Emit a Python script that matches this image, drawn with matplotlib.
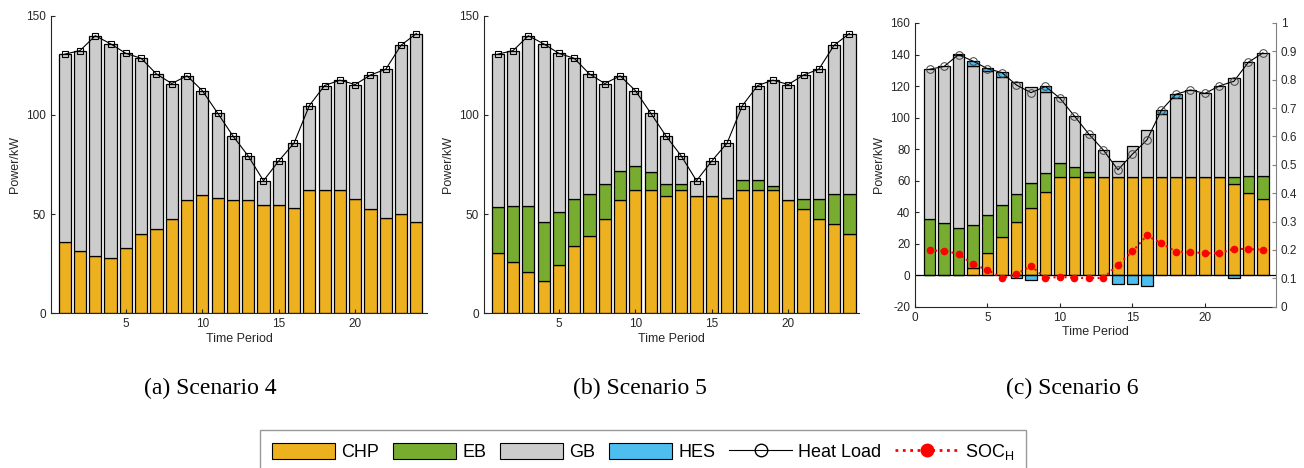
import numpy as np
import matplotlib
matplotlib.use("Agg")
import matplotlib.pyplot as plt
from matplotlib.patches import Patch
from matplotlib.lines import Line2D

plt.rcParams['font.family'] = ['Liberation Sans', 'DejaVu Sans']
plt.rcParams['axes.unicode_minus'] = False

# Time periods and heat load (same in all scenarios)
t = np.arange(1, 25)
heat_load = [130.6, 132.4, 139.9, 135.8, 131.0, 128.5, 120.6, 115.8, 119.7, 112.2, 100.9, 89.4,
             79.3, 66.8, 76.8, 85.8, 104.7, 114.8, 117.5, 115.3, 120.1, 123.0, 135.1, 141.0]

# Scenario 4
chp_a = [36.1, 31.4, 28.9, 27.7, 32.8, 40.1, 42.3, 47.5, 57.3, 59.6, 58.3, 56.9,
         56.9, 54.4, 54.4, 53.3, 62.0, 62.2, 62.2, 57.4, 52.6, 47.9, 49.9, 45.9]
gb_a = [94.5, 101.0, 111.0, 108.1, 98.2, 88.4, 78.3, 68.3, 62.4, 52.6, 42.6, 32.5,
        22.4, 12.4, 22.4, 32.5, 42.7, 52.6, 55.3, 57.9, 67.5, 75.1, 85.2, 95.1]

# Scenario 5
chp_b = [30.6, 25.7, 21.0, 16.1, 24.2, 33.8, 39.0, 47.4, 56.9, 62.0, 62.0, 59.3,
         62.0, 59.3, 59.3, 58.3, 62.0, 62.0, 62.0, 57.3, 52.4, 47.7, 44.9, 40.1]
eb_b = [23.0, 28.2, 32.9, 30.1, 27.0, 24.0, 21.1, 17.9, 15.0, 12.2, 9.1, 6.0,
        3.3, 0.0, 0.0, 0.0, 5.0, 5.0, 2.3, 0.0, 5.0, 9.9, 15.2, 20.2]
gb_b = [77.0, 78.5, 86.0, 89.6, 79.8, 70.7, 60.5, 50.5, 47.8, 38.0, 29.8, 24.1,
        14.0, 7.5, 17.5, 27.5, 37.7, 47.8, 53.2, 58.0, 62.7, 65.4, 75.0, 80.7]

# Scenario 6
chp_c = [0.0, 0.0, 0.0, 4.8, 14.3, 24.0, 33.5, 42.9, 52.8, 62.3, 62.3, 62.3,
         62.3, 62.3, 62.3, 62.3, 62.3, 62.3, 62.3, 62.3, 62.3, 57.6, 52.4, 48.1]
eb_c = [35.8, 32.9, 29.7, 26.8, 23.9, 20.7, 17.9, 15.3, 12.0, 9.1, 6.1, 3.1,
        0.0, 0.0, 0.0, 0.0, 0.0, 0.0, 0.0, 0.0, 0.0, 4.9, 10.5, 15.0]
gb_c = [95.0, 99.6, 109.9, 100.9, 91.1, 81.0, 71.3, 60.9, 51.2, 41.4, 32.8, 24.4,
        17.1, 9.9, 19.8, 30.0, 40.1, 49.9, 55.2, 53.3, 57.9, 62.5, 72.3, 78.0]
hes_c = [0.0, 0.0, 0.6, 3.6, 2.0, 3.0, -1.8, -3.1, 3.8, 0.0, 0.0, 0.0,
         0.0, -5.6, -5.6, -6.7, 2.6, 2.5, 0.0, 0.0, 0.0, -1.8, 0.0, 0.0]
soc_h = [0.199, 0.196, 0.187, 0.149, 0.130, 0.100, 0.115, 0.143, 0.101, 0.105, 0.102, 0.101,
         0.101, 0.148, 0.195, 0.251, 0.223, 0.194, 0.192, 0.189, 0.188, 0.204, 0.203, 0.201]

captions = ['(a) Scenario 4', '(b) Scenario 5', '(c) Scenario 6']

# MATLAB-like colours
c_chp = '#EDB120'
c_eb = '#77AC30'
c_gb = '#CCCCCC'
c_hes = '#4DBEEE'
ax_col = '#262626'
w = 0.8
bar_kw = dict(width=w, edgecolor='black', linewidth=0.9)

fig = plt.figure(figsize=(13.04, 4.68), dpi=100)

def style_axis(ax):
    ax.tick_params(direction='in', labelsize=8.5, colors=ax_col, length=3)
    for s in ['left', 'bottom']:
        ax.spines[s].set_color(ax_col)
        ax.spines[s].set_linewidth(0.8)
    ax.spines['top'].set_visible(False)
    ax.spines['right'].set_visible(False)
    ax.set_xlabel('Time Period', fontsize=9, color=ax_col, labelpad=2)
    ax.set_ylabel('Power/kW', fontsize=9, color=ax_col, labelpad=4)

# Panel (a)
ax_a = fig.add_axes([0.0391, 0.3306, 0.2884, 0.6359])
ax_a.bar(t, chp_a, color=c_chp, **bar_kw)
ax_a.bar(t, gb_a, bottom=chp_a, color=c_gb, **bar_kw)
ax_a.plot(t, heat_load, color='black', linewidth=0.8, marker='s', markersize=4.5,
          markerfacecolor='none', markeredgecolor='black', markeredgewidth=0.8)
ax_a.set_xlim(0.1, 24.7)
ax_a.set_ylim(0, 150)
ax_a.set_xticks([5, 10, 15, 20])
ax_a.set_yticks([0, 50, 100, 150])
style_axis(ax_a)

# Panel (b)
ax_b = fig.add_axes([0.3712, 0.3306, 0.2878, 0.6359])
bot_b = np.array(chp_b) + np.array(eb_b)
ax_b.bar(t, chp_b, color=c_chp, **bar_kw)
ax_b.bar(t, eb_b, bottom=chp_b, color=c_eb, **bar_kw)
ax_b.bar(t, gb_b, bottom=bot_b, color=c_gb, **bar_kw)
ax_b.plot(t, heat_load, color='black', linewidth=0.8, marker='s', markersize=4.5,
          markerfacecolor='none', markeredgecolor='black', markeredgewidth=0.8)
ax_b.set_xlim(0.1, 24.65)
ax_b.set_ylim(0, 150)
ax_b.set_xticks([5, 10, 15, 20])
ax_b.set_yticks([0, 50, 100, 150])
style_axis(ax_b)

# Panel (c)
ax_c = fig.add_axes([0.7017, 0.3447, 0.2768, 0.6062])
chp_c = np.array(chp_c)
eb_c = np.array(eb_c)
gb_c = np.array(gb_c)
hes_c = np.array(hes_c)
hes_pos = np.where(hes_c > 0, hes_c, 0)
hes_neg = np.where(hes_c < 0, hes_c, 0)
ax_c.bar(t, chp_c, color=c_chp, **bar_kw)
ax_c.bar(t, eb_c, bottom=chp_c, color=c_eb, **bar_kw)
ax_c.bar(t, gb_c, bottom=chp_c + eb_c, color=c_gb, **bar_kw)
pos_idx = hes_c > 0
neg_idx = hes_c < 0
ax_c.bar(t[pos_idx], hes_pos[pos_idx], bottom=(chp_c + eb_c + gb_c)[pos_idx], color=c_hes, **bar_kw)
ax_c.bar(t[neg_idx], hes_neg[neg_idx], color=c_hes, **bar_kw)
ax_c.axhline(0, color='black', linewidth=0.9)
ax_c.plot(t, heat_load, color='black', linewidth=0.8, marker='o', markersize=5.5,
          markerfacecolor='none', markeredgecolor='#404040', markeredgewidth=0.7)
ax_c.set_xlim(0, 24.9)
ax_c.set_ylim(-20, 160)
ax_c.set_xticks([0, 5, 10, 15, 20])
ax_c.set_yticks(np.arange(-20, 161, 20))
style_axis(ax_c)

ax_r = ax_c.twinx()
ax_r.plot(t, soc_h, color='red', linestyle=':', linewidth=1.5, marker='o', markersize=4.5,
          markerfacecolor='red', markeredgecolor='red')
ax_r.set_ylim(0, 1)
ax_r.set_yticks(np.arange(0, 1.01, 0.1))
ax_r.set_yticklabels(['0', '0.1', '0.2', '0.3', '0.4', '0.5', '0.6', '0.7', '0.8', '0.9', '1'])
ax_r.tick_params(direction='in', labelsize=8.5, colors=ax_col, length=3)
ax_r.tick_params(axis='y', colors='#808080', labelcolor=ax_col)
ax_r.spines['right'].set_color('#808080')
ax_r.spines['top'].set_visible(False)
ax_r.spines['left'].set_visible(False)
ax_r.spines['bottom'].set_visible(False)

# Captions under each panel
for x, cap in zip([0.161, 0.491, 0.822], captions):
    fig.text(x, 0.171, cap, ha='center', va='center', fontsize=17, family='Liberation Serif')

# Shared legend
handles = [Patch(facecolor=c_chp, edgecolor='black', linewidth=0.8),
           Patch(facecolor=c_eb, edgecolor='black', linewidth=0.8),
           Patch(facecolor=c_gb, edgecolor='black', linewidth=0.8),
           Patch(facecolor=c_hes, edgecolor='black', linewidth=0.8),
           Line2D([], [], color='black', linewidth=0.8, marker='o', markersize=9,
                  markerfacecolor='none', markeredgecolor='black'),
           Line2D([], [], color='red', linestyle=':', linewidth=2, marker='o', markersize=9,
                  markerfacecolor='red', markeredgecolor='red')]
labels = ['CHP', 'EB', 'GB', 'HES', 'Heat Load', r'SOC$_{\mathregular{H}}$']
leg = fig.legend(handles, labels, loc='upper center', bbox_to_anchor=(0.493, 0.081), ncol=6,
                 fontsize=13, frameon=True, fancybox=False, edgecolor='#808080',
                 handlelength=3.5, handleheight=1.0, columnspacing=0.75, handletextpad=0.35,
                 borderpad=0.65, borderaxespad=0)
leg.get_frame().set_linewidth(1.0)

fig.savefig('out.png', dpi=100)
